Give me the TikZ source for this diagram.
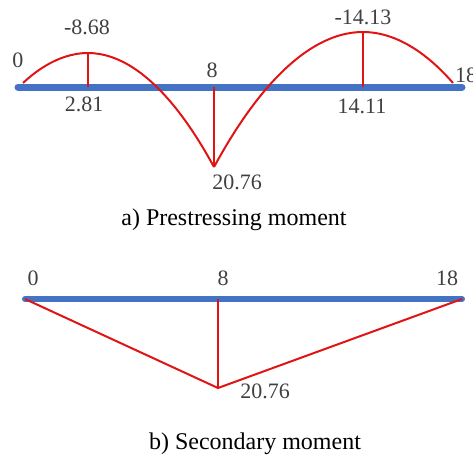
\documentclass[tikz,border=0pt]{standalone}
\usepackage{fontspec}
\setmainfont{Liberation Serif}
\definecolor{beamblue}{RGB}{68,114,196}
\definecolor{mred}{RGB}{225,20,20}

\begin{document}
\begin{tikzpicture}[x=1pt, y=-1pt,
  beam/.style={draw=beamblue, line width=7pt, line cap=round},
  ml/.style={draw=mred, line width=2pt},
  nl/.style={font=\fontsize{22}{24}\selectfont, text=black!75, inner sep=0pt},
  cl/.style={font=\fontsize{24}{28}\selectfont, anchor=base, inner sep=0pt}]
\useasboundingbox (0,0) rectangle (473,459);
% a) prestressing moment
\coordinate (a0) at (18,87);
\coordinate (a18) at (462,87);
\coordinate (s) at (23,83);
\coordinate (p1) at (88,53);
\coordinate (b1) at (88,87);
\coordinate (m) at (214,167);
\coordinate (b8) at (214,87);
\coordinate (p2) at (363,32);
\coordinate (b2) at (363,87);
\coordinate (e) at (453,83);
\draw[beam] (a0) -- (a18);
\draw[ml] (s) parabola bend (p1) (m);
\draw[ml] (m) parabola bend (p2) (e);
\draw[ml] (p1) -- (b1);
\draw[ml] (m) -- (b8);
\draw[ml] (p2) -- (b2);
\node[nl] (t0) at (18,60) {0};
\node[nl] (t868) at (87,27) {-8.68};
\node[nl] (t281) at (84,104) {2.81};
\node[nl] (t8) at (212,70) {8};
\node[nl] (t2076) at (237,182) {20.76};
\node[nl] (t1413) at (363,17) {-14.13};
\node[nl] (t1411) at (362,106) {14.11};
\node[nl] (t18) at (466,75) {18};
\node[cl] (capa) at (234,225) {a) Prestressing moment};
% b) secondary moment
\coordinate (c0) at (25,299);
\coordinate (c18) at (462,299);
\coordinate (c8) at (218,299);
\coordinate (n) at (218,388);
\draw[beam, line width=6pt] (c0) -- (c18);
\draw[ml] (c0) -- (n) -- (c18);
\draw[ml] (c8) -- (n);
\node[nl] (u0) at (33,278) {0};
\node[nl] (u8) at (223,278) {8};
\node[nl] (u18) at (447,278) {18};
\node[nl] (u2076) at (265,391) {20.76};
\node[cl] (capb) at (255,449) {b) Secondary moment};
\end{tikzpicture}
\end{document}
